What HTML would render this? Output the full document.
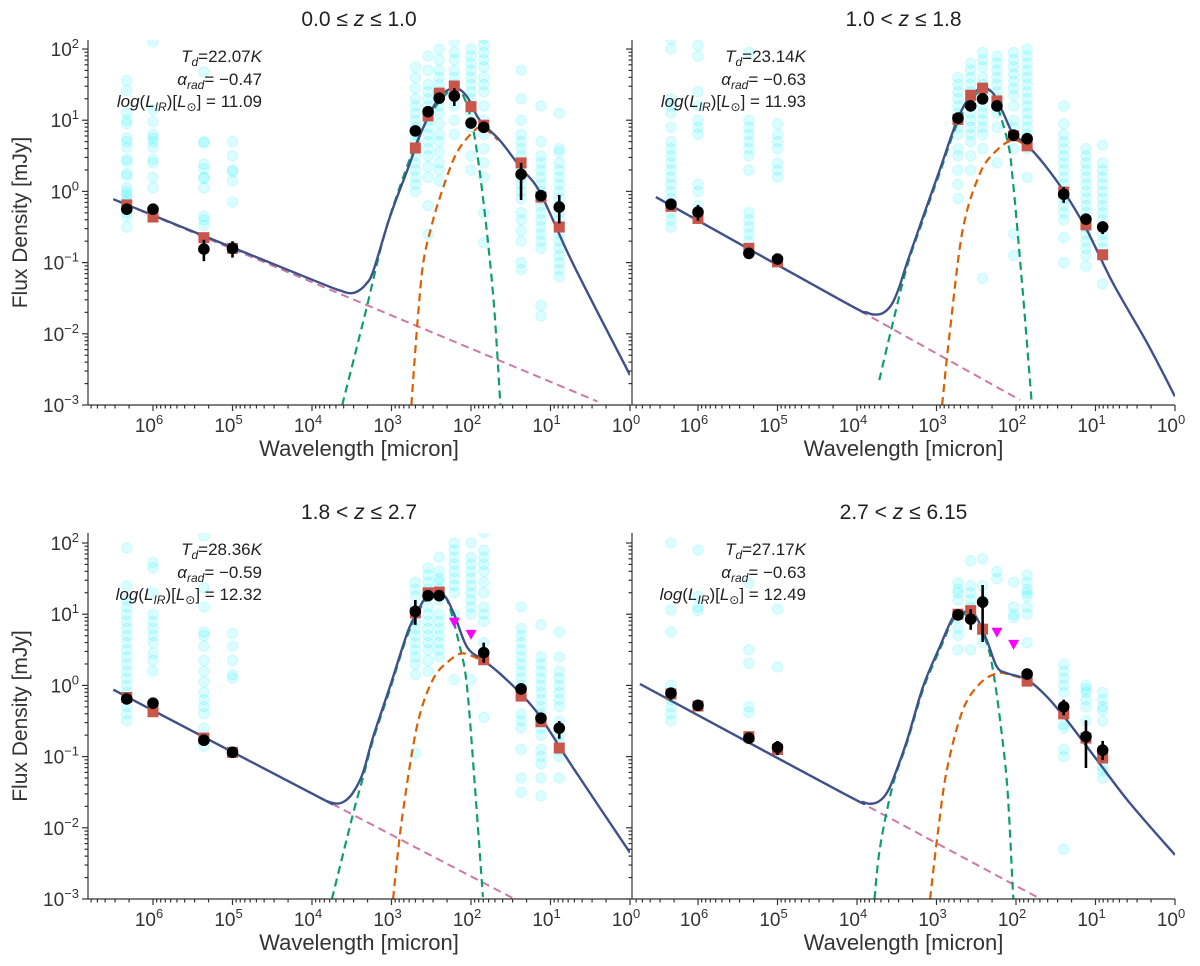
<!DOCTYPE html>
<html><head><meta charset="utf-8">
<style>
html,body{margin:0;padding:0;background:#fff;}
svg{display:block;font-family:"Liberation Sans","DejaVu Sans",sans-serif;}
</style></head>
<body>
<svg id="fig" width="1200" height="966" viewBox="0 0 1200 966" xmlns="http://www.w3.org/2000/svg"></svg>
<script>
// ---------- DATA (log10 wavelength [micron], log10 flux [mJy]) ----------
const panelTitles = [["0.0","≤","≤","1.0"],["1.0","<","≤","1.8"],["1.8","<","≤","2.7"],["2.7","<","≤","6.15"]];
const panelTd = ["22.07","23.14","28.36","27.17"];
const panelAlpha = ["−0.47","−0.63","−0.59","−0.63"];
const panelLir = ["11.09","11.93","12.32","12.49"];
const xTickExp = [6,5,4,3,2,1,0];
const yTickExp = [-3,-2,-1,0,1,2];

// Panel 1 (0.0<=z<=1.0)
const p1BlueX = [6.5,4.0,3.65,3.52,3.42,3.32,3.23,3.02,2.80,2.60,2.39,2.20,2.05,1.89,1.64,1.38,1.13,0.72,0.0];
const p1BlueY = [-0.11,-1.24,-1.39,-1.43,-1.40,-1.30,-1.12,-0.36,0.30,0.90,1.33,1.45,1.33,1.0,0.72,0.34,-0.02,-1.01,-2.58];
const p1GreenX = [3.62,3.45,3.31,3.1,2.9,2.7,2.5,2.3,2.18,2.08,1.97,1.85,1.72,1.63];
const p1GreenY = [-3.0,-2.25,-1.62,-0.65,0.05,0.65,1.1,1.38,1.44,1.3,0.86,-0.08,-1.48,-3.0];
const p1OrangeX = [2.75,2.67,2.6,2.5,2.39,2.18,1.92,1.8,1.66];
const p1OrangeY = [-3.0,-1.8,-1.0,-0.5,-0.08,0.54,0.89,0.86,0.72];
const p1PinkX = [6.5,0.41];
const p1PinkY = [-0.11,-2.95];
const p1ObsX = [6.33,6.0,5.36,5.0,2.70,2.54,2.40,2.21,2.0,1.84,1.37,1.12,0.89];
const p1ObsY = [-0.25,-0.25,-0.81,-0.80,0.85,1.12,1.31,1.34,0.96,0.90,0.24,-0.06,-0.22];
const p1ErrLo = [0.05,0.04,0.17,0.13,0.04,0.04,0.04,0.14,0.04,0.04,0.36,0.04,0.23];
const p1ErrHi = [0.05,0.04,0.13,0.10,0.04,0.04,0.04,0.11,0.04,0.04,0.16,0.04,0.17];
const p1ModX = [6.33,6.0,5.36,5.0,2.70,2.54,2.40,2.21,2.0,1.84,1.37,1.12,0.89];
const p1ModY = [-0.19,-0.36,-0.65,-0.80,0.61,1.06,1.38,1.48,1.19,0.93,0.40,-0.08,-0.50];
const p1LimX = [];
const p1LimY = [];
const p1CloudX = [6.33,6.0,5.36,5.0,2.70,2.54,2.40,2.21,2.0,1.84,1.37,1.12,0.89];
const p1CloudY = [
 [1.56,1.42,1.1,1.0,0.95,0.75,0.7,0.62,0.45,0.42,0.25,0.22,0.05,0,-0.05,-0.1,-0.15,-0.2,-0.25,-0.3,-0.35,-0.5],
 [2.1,1.15,0.98,0.8,0.75,0.7,0.62,0.45,0.4,0.2,0.05,-0.25],
 [1.68,0.7,0.68,0.38,0.32,0.2,0.18,0.05,-0.35,-0.4,-0.48],
 [0.7,0.5,0.3,0.28,0.15,-0.15],
 [1.75,1.6,1.45,1.3,1.2,1.1,1.0,0.9,0.8,0.7,0.6,0.5,0.4,0.3,0.2,0.1,0.0],
 [2.2,1.9,1.7,1.5,1.4,1.3,1.2,1.1,1.0,0.9,0.8,0.7,0.6,0.5,0.35,0.2,-0.2,-0.6],
 [2.0,1.85,1.7,1.6,1.5,1.4,1.3,1.2,1.1,0.95,0.8,0.7,0.55,0.4,0.3,0.15],
 [2.1,1.95,1.85,1.7,1.6,1.5,1.4,1.2,1.0,0.8],
 [2.0,1.9,1.8,1.7,1.6,1.5,1.4,1.3,1.2,1.1,0.9,0.5,0.3],
 [2.15,2.05,1.95,1.85,1.75,1.6,1.5,1.4,1.2,1.0,0.8,0.6,0.4,0.2,-0.3,-0.72],
 [1.7,1.3,1.0,0.8,0.7,0.6,0.5,0.4,0.3,0.2,0.1,0,-0.1,-0.3,-0.4,-0.55,-0.7,-1.0,-1.1],
 [1.2,0.7,0.5,0.4,0.3,0.2,0.1,0,-0.1,-0.2,-0.3,-0.4,-0.5,-0.6,-0.7,-0.8,-1.6,-1.75],
 [1.1,0.6,0.55,0.4,0.3,0.2,0.1,0,-0.1,-0.2,-0.3,-0.4,-0.5,-0.6,-0.7,-0.8,-0.9,-1.0,-1.1,-1.2]];

// Panel 2 (1.0<z<=1.8)
const p2BlueX = [6.53,4.2,3.88,3.76,3.66,3.56,3.47,3.37,3.17,2.96,2.74,2.58,2.42,2.29,2.16,2.04,1.86,1.66,1.41,1.11,0.78,0.35,0.0];
const p2BlueY = [-0.08,-1.53,-1.70,-1.73,-1.70,-1.58,-1.35,-1.0,-0.36,0.30,1.0,1.33,1.45,1.38,1.10,0.82,0.65,0.40,0.02,-0.54,-1.29,-2.13,-2.88];
const p2GreenX = [3.72,3.55,3.37,3.17,2.96,2.74,2.55,2.42,2.29,2.11,2.04,1.91,1.80];
const p2GreenY = [-2.65,-1.85,-1.05,-0.4,0.26,0.95,1.3,1.42,1.35,0.72,0.16,-1.48,-3.0];
const p2OrangeX = [2.93,2.83,2.67,2.45,2.24,2.04,1.88];
const p2OrangeY = [-3.0,-1.95,-0.54,0.26,0.58,0.72,0.65];
const p2PinkX = [6.53,1.95];
const p2PinkY = [-0.08,-2.93];
const p2ObsX = [6.34,6.0,5.36,5.0,2.73,2.57,2.42,2.24,2.03,1.86,1.40,1.12,0.91];
const p2ObsY = [-0.18,-0.29,-0.87,-0.95,1.03,1.20,1.30,1.20,0.79,0.74,-0.04,-0.39,-0.50];
const p2ErrLo = [0.04,0.12,0.04,0.04,0.04,0.04,0.04,0.04,0.08,0.04,0.12,0.04,0.10];
const p2ErrHi = [0.04,0.10,0.04,0.04,0.04,0.04,0.04,0.04,0.08,0.04,0.10,0.04,0.08];
const p2ModX = [6.34,6.0,5.36,5.0,2.73,2.57,2.42,2.24,2.03,1.86,1.40,1.12,0.91];
const p2ModY = [-0.21,-0.38,-0.80,-0.99,1.01,1.35,1.45,1.27,0.78,0.64,-0.01,-0.47,-0.89];
const p2LimX = [];
const p2LimY = [];
const p2CloudX = [6.34,6.0,5.36,5.0,2.73,2.57,2.42,2.24,2.03,1.86,1.40,1.12,0.91];
const p2CloudY = [
 [2.14,2.0,1.3,1.2,1.1,0.9,0.7,0.6,0.5,0.4,0.3,0.2,0.1,0,-0.1,-0.2,-0.3,-0.4,-0.5],
 [2.05,1.9,1.4,1.2,1.0,0.9,0.8,0.1,0.0,-0.2,-0.3],
 [1.95,1.0,0.9,0.8,0.7,0.6,0.5,0.3,-0.3,-0.4,-0.5,-0.6,-0.7,-0.8],
 [0.95,0.8,0.7,0.6,0.4,0.3,0.2],
 [1.6,1.5,1.4,1.3,1.2,1.1,1.0,0.9,0.8,0.6,0.5,0.3,0.1,-0.1],
 [1.8,1.7,1.6,1.5,1.4,1.3,1.2,1.1,1.0,0.9,0.8,0.7,0.5,0.3],
 [1.95,1.85,1.75,1.6,1.5,1.4,1.3,1.2,1.1,1.0,0.9,0.8,0.6,-1.22],
 [1.9,1.8,1.7,1.6,1.5,1.4,1.3,1.2,1.1,0.9,0.4],
 [1.95,1.85,1.75,1.65,1.55,1.45,1.35,1.2,1.0,0.9,0.6,-0.6,-0.9],
 [2.0,1.9,1.8,1.7,1.6,1.5,1.4,1.3,1.2,1.1,1.0,0.9,0.8,0.6,0.2],
 [1.2,0.95,0.8,0.7,0.6,0.5,0.4,0.3,0.2,0.1,0.0,-0.1,-0.2,-0.3,-0.4,-0.65,-1.0],
 [0.6,0.5,0.4,0.3,0.2,0.1,0.0,-0.1,-0.2,-0.3,-0.4,-0.5,-0.6,-0.7,-0.8,-0.9,-1.05],
 [0.65,0.4,0.3,0.2,0.1,0.0,-0.1,-0.2,-0.3,-0.4,-0.5,-0.6,-0.7,-0.8,-0.9,-1.3]];

// Panel 3 (1.8<z<=2.7)
const p3BlueX = [6.50,4.0,3.80,3.68,3.58,3.48,3.36,3.23,3.02,2.80,2.68,2.54,2.35,2.22,2.05,1.85,1.64,1.38,1.13,0.72,0.0];
const p3BlueY = [-0.06,-1.52,-1.63,-1.66,-1.62,-1.50,-1.23,-0.72,-0.02,0.74,1.02,1.27,1.27,1.02,0.54,0.36,0.17,-0.11,-0.44,-1.15,-2.35];
const p3GreenX = [3.75,3.48,3.36,3.23,3.02,2.80,2.6,2.43,2.3,2.14,2.05,1.95,1.85];
const p3GreenY = [-3.0,-1.79,-1.3,-0.76,-0.06,0.7,1.15,1.3,1.2,0.54,-0.02,-1.43,-2.97];
const p3OrangeX = [2.98,2.87,2.68,2.48,2.26,2.10,1.90];
const p3OrangeY = [-3.0,-1.89,-0.58,0.08,0.36,0.45,0.37];
const p3PinkX = [6.50,1.47];
const p3PinkY = [-0.06,-2.99];
const p3ObsX = [6.33,6.0,5.36,5.0,2.70,2.54,2.40,1.84,1.37,1.12,0.89];
const p3ObsY = [-0.19,-0.25,-0.77,-0.94,1.04,1.26,1.26,0.46,-0.05,-0.46,-0.60];
const p3ErrLo = [0.04,0.04,0.04,0.04,0.19,0.04,0.04,0.14,0.08,0.04,0.15];
const p3ErrHi = [0.04,0.04,0.04,0.04,0.16,0.04,0.04,0.14,0.08,0.04,0.10];
const p3ModX = [6.33,6.0,5.36,5.0,2.70,2.54,2.40,1.84,1.37,1.12,0.89];
const p3ModY = [-0.17,-0.37,-0.74,-0.94,1.02,1.30,1.31,0.36,-0.15,-0.51,-0.88];
const p3LimX = [2.21,2.0];
const p3LimY = [0.88,0.71];
const p3CloudX = [6.33,6.0,5.36,5.0,2.70,2.54,2.40,2.21,2.0,1.84,1.37,1.12,0.89];
const p3CloudY = [
 [1.93,1.4,1.2,1.1,1.0,0.9,0.8,0.7,0.6,0.5,0.4,0.3,0.2,0.1,0,-0.1,-0.2,-0.3,-0.4,-0.5],
 [1.73,1.65,1.3,1.0,0.9,0.8,0.7,0.6,0.45,0.35,0.2],
 [2.1,1.37,1.1,0.75,0.7,0.55,0.35,0.2,0.05,-0.1,-0.2,-0.3,-0.4,-0.6,-0.75,-0.85],
 [0.73,0.55,0.35,0.15,0.1],
 [1.45,1.35,1.25,1.1,1.0,0.9,0.8,0.7,0.6,0.5,0.4,0.3,0.15,-0.95],
 [1.65,1.55,1.45,1.35,1.25,1.1,1.0,0.9,0.8,0.7,0.6,0.5,0.35,0.2],
 [1.8,1.6,1.5,1.45,1.35,1.2,1.0,0.9,0.8,0.7,0.6,0.5,0.4],
 [2.0,1.9,1.8,1.7,1.6,1.5,1.4,1.3,1.0,0.9,0.08],
 [2.0,1.8,1.7,1.6,1.5,1.4,1.3,1.2,1.1,1.0,0.08],
 [2.15,1.9,1.8,1.7,1.6,1.45,1.3,1.1,1.0,0.9,0.6,0.4,-0.45],
 [1.1,0.8,0.7,0.6,0.5,0.4,0.3,0.2,0.1,0.0,-0.1,-0.4,-0.5,-0.6,-0.9,-1.3,-1.5],
 [0.85,0.4,0.3,0.2,0.1,0.0,-0.1,-0.2,-0.3,-0.4,-0.5,-0.6,-0.7,-0.9,-1.0,-1.1,-1.3,-1.55],
 [0.75,0.4,0.2,0.1,0.0,-0.1,-0.2,-0.3,-0.5,-0.7,-0.8,-0.9,-1.0,-1.3]];

// Panel 4 (2.7<z<=6.15)
const p4BlueX = [6.73,4.2,3.92,3.80,3.70,3.62,3.55,3.37,3.17,2.96,2.79,2.67,2.52,2.37,2.24,2.11,1.86,1.61,1.36,0.98,0.57,0.0];
const p4BlueY = [0.02,-1.50,-1.64,-1.66,-1.61,-1.50,-1.33,-0.77,-0.02,0.54,0.96,1.03,0.99,0.64,0.26,0.17,0.08,-0.16,-0.49,-1.05,-1.65,-2.38];
const p4GreenX = [3.78,3.71,3.55,3.37,3.17,2.96,2.79,2.65,2.52,2.37,2.29,2.20,2.11,2.04,2.03];
const p4GreenY = [-3.0,-2.27,-1.4,-0.8,-0.06,0.5,0.92,1.0,0.95,0.6,0.22,-0.49,-1.43,-2.87,-3.0];
const p4OrangeX = [3.08,2.99,2.87,2.67,2.45,2.24,2.11,1.95];
const p4OrangeY = [-3.0,-2.13,-1.19,-0.35,0.03,0.17,0.16,0.11];
const p4PinkX = [6.73,1.74];
const p4PinkY = [0.02,-2.97];
const p4ObsX = [6.34,6.0,5.36,5.0,2.73,2.57,2.42,1.86,1.40,1.12,0.91];
const p4ObsY = [-0.11,-0.28,-0.74,-0.87,0.99,0.93,1.17,0.16,-0.30,-0.72,-0.91];
const p4ErrLo = [0.09,0.04,0.05,0.11,0.04,0.15,0.56,0.04,0.12,0.44,0.14];
const p4ErrHi = [0.08,0.04,0.05,0.09,0.04,0.14,0.24,0.04,0.10,0.23,0.13];
const p4ModX = [6.34,6.0,5.36,5.0,2.73,2.57,2.42,1.86,1.40,1.12,0.91];
const p4ModY = [-0.12,-0.29,-0.72,-0.90,1.0,1.05,0.79,0.06,-0.40,-0.74,-1.02];
const p4LimX = [2.24,2.03];
const p4LimY = [0.74,0.57];
const p4CloudX = [6.34,6.0,5.36,5.0,2.73,2.57,2.42,2.24,2.03,1.86,1.40,1.12,0.91];
const p4CloudY = [
 [2.0,1.06,0.75,0.0,-0.1,-0.2,-0.3,-0.4,-0.5],
 [1.9,1.25,1.1,1.05],
 [1.44,0.5,0.31,-0.3,-0.38],
 [1.07,0.26],
 [1.44,1.35,1.3,1.2,0.95,0.8,0.7,0.5],
 [1.75,1.4,1.3,1.2,1.1,0.5],
 [1.78,1.4,1.2,0.75,0.6],
 [1.6,1.5],
 [1.45,1.1,1.0,0.95],
 [1.55,1.45,1.35,1.3,1.25,1.1,1.0,0.6],
 [0.3,0.2,0.1,0.0,-0.1,-0.55,-0.6,-0.9,-1.0,-2.3],
 [0.0,-0.05,-0.1,-0.2,-0.3,-0.5],
 [-0.1,-0.2,-0.3,-0.35,-0.5,-0.9,-1.15,-1.2,-1.3]];

// ---------- RENDER ----------
const NS = "http://www.w3.org/2000/svg";
const svg = document.getElementById('fig');
function mk(tag, attrs, parent){const e=document.createElementNS(NS,tag);for(const k in attrs)e.setAttribute(k,attrs[k]);(parent||svg).appendChild(e);return e;}

const panels = [
 {ox:630,left:88,y0:405,top:40,labelsY:true,
  blue:[p1BlueX,p1BlueY],green:[p1GreenX,p1GreenY],orange:[p1OrangeX,p1OrangeY],pink:[p1PinkX,p1PinkY],
  obs:[p1ObsX,p1ObsY,p1ErrLo,p1ErrHi],mod:[p1ModX,p1ModY],lim:[p1LimX,p1LimY],cloud:[p1CloudX,p1CloudY]},
 {ox:1175,left:632,y0:405,top:40,labelsY:false,
  blue:[p2BlueX,p2BlueY],green:[p2GreenX,p2GreenY],orange:[p2OrangeX,p2OrangeY],pink:[p2PinkX,p2PinkY],
  obs:[p2ObsX,p2ObsY,p2ErrLo,p2ErrHi],mod:[p2ModX,p2ModY],lim:[p2LimX,p2LimY],cloud:[p2CloudX,p2CloudY]},
 {ox:630,left:88,y0:899,top:533,labelsY:true,
  blue:[p3BlueX,p3BlueY],green:[p3GreenX,p3GreenY],orange:[p3OrangeX,p3OrangeY],pink:[p3PinkX,p3PinkY],
  obs:[p3ObsX,p3ObsY,p3ErrLo,p3ErrHi],mod:[p3ModX,p3ModY],lim:[p3LimX,p3LimY],cloud:[p3CloudX,p3CloudY]},
 {ox:1175,left:632,y0:899,top:533,labelsY:false,
  blue:[p4BlueX,p4BlueY],green:[p4GreenX,p4GreenY],orange:[p4OrangeX,p4OrangeY],pink:[p4PinkX,p4PinkY],
  obs:[p4ObsX,p4ObsY,p4ErrLo,p4ErrHi],mod:[p4ModX,p4ModY],lim:[p4LimX,p4LimY],cloud:[p4CloudX,p4CloudY]}
];
const DX = 79.5, DY = 71.2;

function smoothPath(pts){
  if(pts.length<3){return 'M'+pts.map(p=>p[0].toFixed(1)+','+p[1].toFixed(1)).join(' L');}
  let d='M'+pts[0][0].toFixed(1)+','+pts[0][1].toFixed(1);
  for(let i=0;i<pts.length-1;i++){
    const p0=pts[i-1]||pts[i],p1=pts[i],p2=pts[i+1],p3=pts[i+2]||p2;
    const c1=[p1[0]+(p2[0]-p0[0])/6,p1[1]+(p2[1]-p0[1])/6];
    const c2=[p2[0]-(p3[0]-p1[0])/6,p2[1]-(p3[1]-p1[1])/6];
    d+=' C'+c1[0].toFixed(1)+','+c1[1].toFixed(1)+' '+c2[0].toFixed(1)+','+c2[1].toFixed(1)+' '+p2[0].toFixed(1)+','+p2[1].toFixed(1);
  }
  return d;
}

const defs = mk('defs',{});
panels.forEach((P,pi)=>{
  const sx = lx => P.ox - lx*DX;
  const sy = ly => P.y0 - (ly+3)*DY;
  const g = mk('g',{});
  
  
  const cp = mk('clipPath',{id:'clip'+pi},defs);
  mk('rect',{x:P.left,y:P.top,width:P.ox-P.left,height:P.y0-P.top},cp);
  const plot = mk('g',{'clip-path':'url(#clip'+pi+')'},g);
  
  

  const cg = mk('g',{},plot);
  
  
  P.cloud[0].forEach((bx,bi)=>{
    P.cloud[1][bi].forEach(v=>{
      const c = mk('circle',{cx:sx(bx),cy:sy(v),r:5.2,fill:'#00eeff','fill-opacity':0.14,stroke:'#00eeff','stroke-opacity':0.16,'stroke-width':1},cg);
      
      
    });
  });

  function curve(arr,color,dash,w,name){
    const pts = arr[0].map((x,i)=>[sx(x),sy(arr[1][i])]);
    const p = mk('path',{d:smoothPath(pts),fill:'none',stroke:color,'stroke-width':w,'stroke-dasharray':dash,'stroke-linecap':'butt'},plot);
    
    
  }
  curve(P.pink,'#cc79a7','8,5',2,'radio-power-law');
  curve(P.green,'#109d6f','8,5',2.2,'cold-dust-component');
  curve(P.orange,'#d95f02','8,5',2.2,'warm-dust-component');
  curve(P.blue,'#3f5188','none',2.4,'total-sed-model');

  P.mod[0].forEach((x,i)=>{
    const r = mk('rect',{x:sx(x)-5.5,y:sy(P.mod[1][i])-5.5,width:11,height:11,fill:'#c8564b'},plot);
    
    
  });
  P.obs[0].forEach((x,i)=>{
    const y=P.obs[1][i];
    const e = mk('line',{x1:sx(x),x2:sx(x),y1:sy(y-P.obs[2][i]),y2:sy(y+P.obs[3][i]),stroke:'#000','stroke-width':2.6},plot);
    
    
    const c = mk('circle',{cx:sx(x),cy:sy(y),r:5.8,fill:'#000'},plot);
    
    
  });
  P.lim[0].forEach((x,i)=>{
    const X=sx(x),Y=sy(P.lim[1][i]);
    const t = mk('polygon',{points:`${X-5.5},${Y-5} ${X+5.5},${Y-5} ${X},${Y+5}`,fill:'#ff00ff'},plot);
    
    
  });

  const ax = mk('g',{stroke:'#333','stroke-width':1.2},g);
  
  
  const xs = mk('line',{x1:P.left,x2:P.ox,y1:P.y0,y2:P.y0},ax);
  
  
  const ys = mk('line',{x1:P.left,x2:P.left,y1:P.top,y2:P.y0},ax);
  
  
  const lxMax=(P.ox-P.left)/DX;
  for(let n=0;n<7;n++){
    for(let k=1;k<10;k++){
      const lx=n+Math.log10(k);
      if(lx>lxMax) continue;
      const X=sx(lx);
      mk('line',{x1:X,x2:X,y1:P.y0,y2:P.y0+(k===1?6:3.5)},ax);
    }
  }
  xTickExp.forEach(n=>{
    const t = mk('text',{x:sx(n)-4,y:P.y0+27,'text-anchor':'middle','font-size':19,fill:'#333',stroke:'none'},g);
    
    
    t.innerHTML='10<tspan dy="-8" font-size="13">'+n+'</tspan>';
  });
  for(let n=-3;n<3;n++){
    for(let k=1;k<10;k++){
      const ly=n+Math.log10(k);
      const Y=sy(ly);
      if(Y<P.top) continue;
      mk('line',{x1:P.left,x2:P.left-(k===1?6:3.5),y1:Y,y2:Y},ax);
    }
  }
  if(P.labelsY){
    yTickExp.forEach(n=>{
      const t = mk('text',{x:P.left-9,y:sy(n)+7,'text-anchor':'end','font-size':19,fill:'#333'},g);
      
      
      t.innerHTML='10<tspan dy="-8" font-size="13">'+(n<0?'−'+(-n):n)+'</tspan>';
    });
    const yl = mk('text',{x:0,y:0,transform:`translate(27,${(P.top+P.y0)/2}) rotate(-90)`,'text-anchor':'middle','font-size':21,fill:'#333'},g);
    
    
    yl.textContent='Flux Density [mJy]';
  }
  const xl = mk('text',{x:(P.left+P.ox)/2,y:P.y0+51,'text-anchor':'middle','font-size':22,fill:'#333'},g);
  
  
  xl.textContent='Wavelength [micron]';

  const T=panelTitles[pi];
  const tt = mk('text',{x:(P.left+P.ox)/2,y:P.top-14,'text-anchor':'middle','font-size':21,fill:'#222'},g);
  
  
  tt.innerHTML=T[0]+' '+T[1]+' <tspan font-style="italic">z</tspan> '+T[2]+' '+T[3];

  const ann = mk('g',{'font-size':17,fill:'#222','text-anchor':'end'},g);
  
  
  const ax0 = P.left+174;
  const a1 = mk('text',{x:ax0,y:P.top+22},ann);
  a1.innerHTML='<tspan font-style="italic">T</tspan><tspan font-style="italic" font-size="12" dy="4">d</tspan><tspan dy="-4">=' + panelTd[pi] + '</tspan><tspan font-style="italic">K</tspan>';
  const a2 = mk('text',{x:ax0,y:P.top+45},ann);
  a2.innerHTML='<tspan font-style="italic">α</tspan><tspan font-style="italic" font-size="12" dy="4">rad</tspan><tspan dy="-4">= ' + panelAlpha[pi] + '</tspan>';
  const a3 = mk('text',{x:ax0,y:P.top+67},ann);
  a3.innerHTML='<tspan font-style="italic">log</tspan>(<tspan font-style="italic">L</tspan><tspan font-style="italic" font-size="12" dy="4">IR</tspan><tspan dy="-4">)[</tspan><tspan font-style="italic">L</tspan><tspan font-size="12" dy="4">⊙</tspan><tspan dy="-4">] = ' + panelLir[pi] + '</tspan>';
});
</script>
</body></html>
